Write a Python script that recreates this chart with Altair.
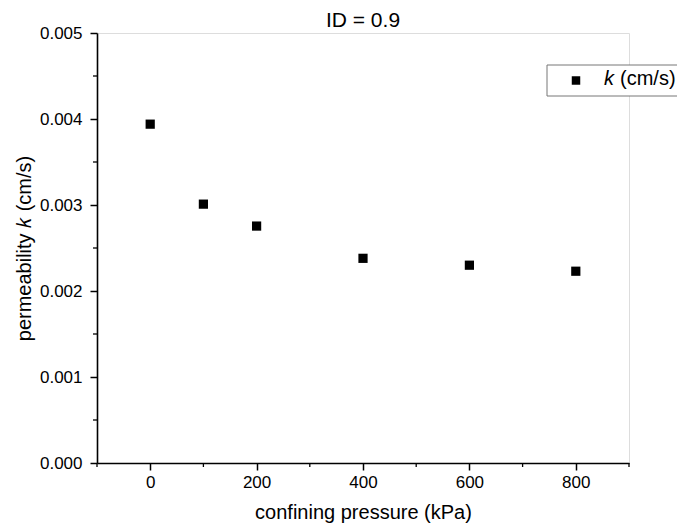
import altair as alt
import pandas as pd

pressure = [0, 100, 200, 400, 600, 800]
perm_k = [0.00394, 0.00301, 0.002755, 0.00238, 0.00230, 0.00223]
x_major = [0, 200, 400, 600, 800]
x_minor = [-100, 100, 300, 500, 700, 900]
y_major = [0.000, 0.001, 0.002, 0.003, 0.004, 0.005]
y_minor = [0.0005, 0.0015, 0.0025, 0.0035, 0.0045]
title_text = ["ID = 0.9"]
legend_label = ["k", "(cm/s)"]

FONT = "Arial, Liberation Sans, sans-serif"
W, H = 532, 430

df = pd.DataFrame({"p": pressure, "k": perm_k})
xs = alt.Scale(domain=[-100, 900], nice=False, zero=False)
ys = alt.Scale(domain=[0, 0.005], nice=False)

points = alt.Chart(df).mark_point(shape="square", filled=True, size=85, color="black", opacity=1).encode(
    x=alt.X("p:Q", scale=xs,
            axis=alt.Axis(values=x_major, title="confining pressure (kPa)", grid=False,
                          domainColor="black", domainWidth=1.6, tickColor="black", tickWidth=1.5,
                          tickSize=7, labelPadding=4, labelFontSize=17, labelFont=FONT,
                          labelColor="black", titleFont=FONT, titleFontSize=20,
                          titleFontWeight="normal", titleColor="black",
                          titleX=W / 2, titleY=49, titleBaseline="middle", titleAlign="center")),
    y=alt.Y("k:Q", scale=ys,
            axis=alt.Axis(values=y_major, format=".3f", title="permeability 𝑘 (cm/s)", grid=False,
                          domainColor="black", domainWidth=1.6, tickColor="black", tickWidth=1.5,
                          tickSize=7, labelPadding=8, labelFontSize=17, labelFont=FONT,
                          labelColor="black", titleFont=FONT, titleFontSize=20,
                          titleFontWeight="normal", titleColor="black",
                          titleX=-73, titleY=H / 2, titleBaseline="middle", titleAlign="center",
                          titleAngle=270)),
)

xminor = alt.Chart(pd.DataFrame({"v": x_minor})).mark_rule(color="black", strokeWidth=1.3).encode(
    x=alt.X("v:Q", scale=xs),
    y=alt.value(H), y2=alt.value(H + 4),
)
yminor = alt.Chart(pd.DataFrame({"v": y_minor})).mark_rule(color="black", strokeWidth=1.3).encode(
    y=alt.Y("v:Q", scale=ys),
    x=alt.value(0), x2=alt.value(-4),
)

title_mark = alt.Chart(pd.DataFrame({"t": title_text})).mark_text(
    font=FONT, fontSize=21, align="center", baseline="middle", color="black").encode(
    text="t:N", x=alt.value(W / 2), y=alt.value(-12)
)

# legend
leg_box = alt.Chart(pd.DataFrame({"a": [0]})).mark_rect(fill="white", stroke="#777777", strokeWidth=1).encode(
    x=alt.value(450), x2=alt.value(640), y=alt.value(32), y2=alt.value(63)
)
leg_sym = alt.Chart(pd.DataFrame({"a": [0]})).mark_point(shape="square", filled=True, size=72, color="black", opacity=1).encode(
    x=alt.value(479), y=alt.value(47.5)
)
leg_k = alt.Chart(pd.DataFrame({"t": [legend_label[0]]})).mark_text(
    font=FONT, fontSize=20, fontStyle="italic", align="left", baseline="alphabetic", color="black").encode(
    text="t:N", x=alt.value(507), y=alt.value(52)
)
leg_rest = alt.Chart(pd.DataFrame({"t": [legend_label[1]]})).mark_text(
    font=FONT, fontSize=20, align="left", baseline="alphabetic", color="black").encode(
    text="t:N", x=alt.value(523), y=alt.value(52)
)

chart = alt.layer(points, xminor, yminor, title_mark, leg_box, leg_sym, leg_k, leg_rest).properties(
    width=W, height=H,
    autosize=alt.AutoSizeParams(type="none"),
    padding={"left": 89, "top": 25, "right": 48, "bottom": 60},
).configure_view(strokeWidth=0).configure(background="white")

chart.save("out.html", embed_options={"renderer": "svg", "actions": False})
